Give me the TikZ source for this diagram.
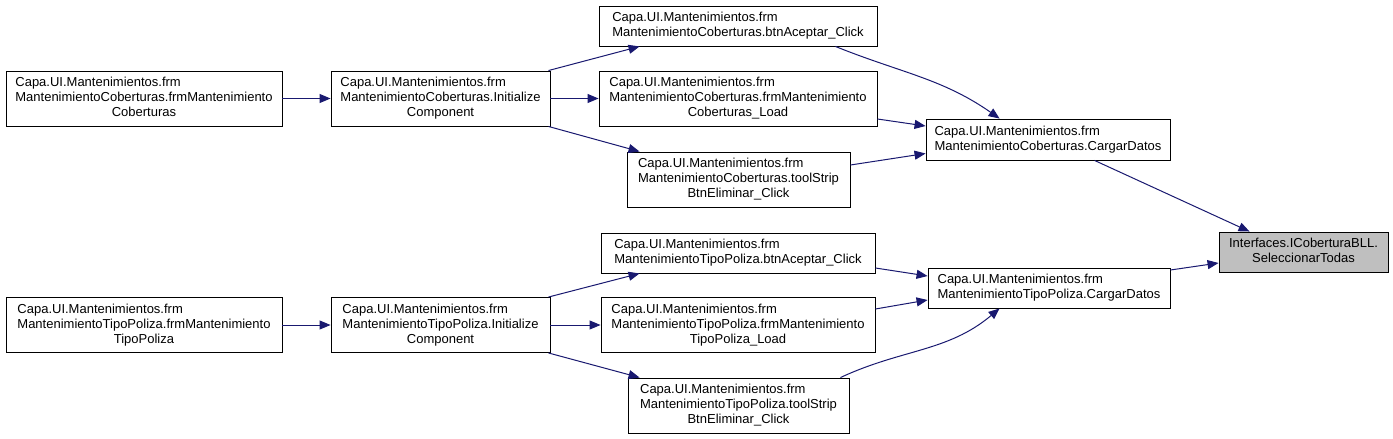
\documentclass[tikz,border=0pt]{standalone}
\usepackage{fontspec}
\setmainfont{Liberation Sans}
\usetikzlibrary{arrows.meta,calc}
\definecolor{edgecol}{HTML}{191970}
\definecolor{hlfill}{HTML}{BFBFBF}
\newcommand\twol[2]{\begin{tabular}{@{}l@{}}#1\\\multicolumn{1}{@{}c@{}}{#2}\end{tabular}}
\newcommand\threel[3]{\begin{tabular}{@{}l@{}}#1\\#2\\\multicolumn{1}{@{}c@{}}{#3}\end{tabular}}
\begin{document}
\begin{tikzpicture}[x=1pt,y=1pt,
  box/.style={draw=black, line width=0.9pt, fill=white, rectangle, inner sep=0pt,
    font=\fontsize{13}{15}\selectfont},
  hl/.style={box, fill=hlfill},
  edge/.style={draw=edgecol, line width=1pt, -{Triangle[length=11pt,width=9pt]}},
]
\useasboundingbox (0,0) rectangle (1393,-439);
\fill[white] (0,0) rectangle (1393,-439);
% top group
\node[box, minimum width=276pt, minimum height=55pt] (A1) at (144,-98.5)
  {\threel{Capa.UI.Mantenimientos.frm}{MantenimientoCoberturas.frmMantenimiento}{Coberturas}};
\node[box, minimum width=219pt, minimum height=55pt] (B1) at (440.5,-98.5)
  {\threel{Capa.UI.Mantenimientos.frm}{MantenimientoCoberturas.Initialize}{Component}};
\node[box, minimum width=278pt, minimum height=40pt] (C1) at (738,-26)
  {\twol{Capa.UI.Mantenimientos.frm}{MantenimientoCoberturas.btnAceptar\_Click}};
\node[box, minimum width=278pt, minimum height=55pt] (C2) at (738,-98.5)
  {\threel{Capa.UI.Mantenimientos.frm}{MantenimientoCoberturas.frmMantenimiento}{Coberturas\_Load}};
\node[box, minimum width=223pt, minimum height=55pt] (C3) at (738.5,-179.5)
  {\threel{Capa.UI.Mantenimientos.frm}{MantenimientoCoberturas.toolStrip}{BtnEliminar\_Click}};
\node[box, minimum width=244pt, minimum height=41pt] (D1) at (1048,-139.5)
  {\twol{Capa.UI.Mantenimientos.frm}{MantenimientoCoberturas.CargarDatos}};
\node[hl, minimum width=169pt, minimum height=40pt] (E) at (1303.5,-252)
  {\twol{Interfaces.ICoberturaBLL.}{SeleccionarTodas}};
% bottom group
\node[box, minimum width=242pt, minimum height=40pt] (D2) at (1049,-288)
  {\twol{Capa.UI.Mantenimientos.frm}{MantenimientoTipoPoliza.CargarDatos}};
\node[box, minimum width=274pt, minimum height=40pt] (F1) at (738,-253)
  {\twol{Capa.UI.Mantenimientos.frm}{MantenimientoTipoPoliza.btnAceptar\_Click}};
\node[box, minimum width=274pt, minimum height=55pt] (F2) at (738,-325)
  {\threel{Capa.UI.Mantenimientos.frm}{MantenimientoTipoPoliza.frmMantenimiento}{TipoPoliza\_Load}};
\node[box, minimum width=221pt, minimum height=55pt] (F3) at (738.5,-405.5)
  {\threel{Capa.UI.Mantenimientos.frm}{MantenimientoTipoPoliza.toolStrip}{BtnEliminar\_Click}};
\node[box, minimum width=276pt, minimum height=55pt] (A2) at (144,-325)
  {\threel{Capa.UI.Mantenimientos.frm}{MantenimientoTipoPoliza.frmMantenimiento}{TipoPoliza}};
\node[box, minimum width=219pt, minimum height=55pt] (B2) at (440.5,-325)
  {\threel{Capa.UI.Mantenimientos.frm}{MantenimientoTipoPoliza.Initialize}{Component}};
% edges top
\draw[edge] (A1.east) -- (B1.west);
\draw[edge] ([xshift=-2pt]B1.north east) -- ([xshift=41pt]C1.south west);
\draw[edge] (B1.east) -- (C2.west);
\draw[edge] ([xshift=-2pt]B1.south east) -- ([xshift=13pt]C3.north west);
\draw[edge] ([xshift=-42pt]C1.south east) to[out=-22,in=145] ([xshift=74pt]D1.north west);
\draw[edge] ([yshift=-20.5pt]C2.east) -- ([yshift=13.5pt]D1.west);
\draw[edge] ([yshift=14.5pt]C3.east) -- ([yshift=-14pt]D1.west);
\draw[edge] ([xshift=169pt]D1.south west) -- ([xshift=31pt]E.north west);
% edges bottom
\draw[edge] ([yshift=18pt]D2.east) -- ([yshift=-11pt]E.west);
\draw[edge] ([yshift=-15pt]F1.east) -- ([yshift=12pt]D2.west);
\draw[edge] ([yshift=16pt]F2.east) -- ([yshift=-12pt]D2.west);
\draw[edge] ([xshift=-9pt]F3.north east) to[out=25,in=-140] ([xshift=72pt]D2.south west);
\draw[edge] ([xshift=-2pt]B2.north east) -- ([xshift=39pt]F1.south west);
\draw[edge] (B2.east) -- (F2.west);
\draw[edge] ([xshift=-2pt]B2.south east) -- ([xshift=12pt]F3.north west);
\draw[edge] (A2.east) -- (B2.west);
\end{tikzpicture}
\end{document}
